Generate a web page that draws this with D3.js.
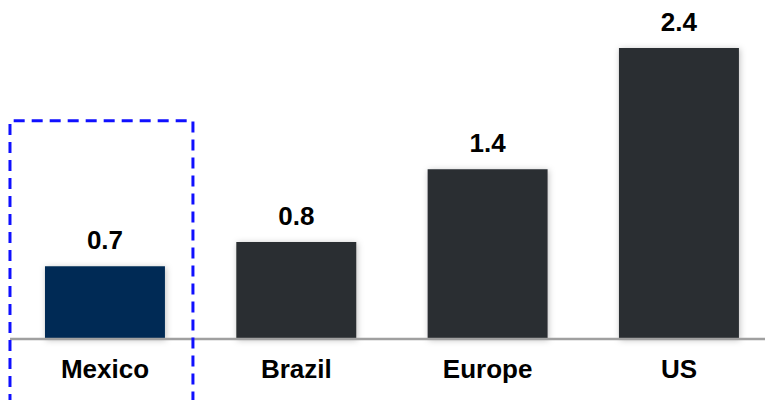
<!DOCTYPE html>
<html>
<head>
<meta charset="utf-8">
<script src="https://cdn.jsdelivr.net/npm/d3@7"></script>
<style>
  body { margin: 0; background: #fff; }
  text { font-family: "Liberation Sans", Arial, sans-serif; font-weight: bold; fill: #000; }
</style>
</head>
<body>
<script>
// data
var categories = ['Mexico', 'Brazil', 'Europe', 'US'];
var values = [0.6, 0.8, 1.4, 2.4];          // bar heights
var valueLabels = ['0.7', '0.8', '1.4', '2.4'];
var colors = ['#002b55', '#2a2d31', '#2a2d31', '#2a2d31'];

var width = 765, height = 400;
var baseY = 339;

var svg = d3.select('body').append('svg')
	.attr('width', width)
	.attr('height', height);

var defs = svg.append('defs');
defs.append('filter')
	.attr('id', 'shadow')
	.attr('x', '-20%').attr('y', '-20%')
	.attr('width', '140%').attr('height', '140%')
	.append('feDropShadow')
	.attr('dx', 1).attr('dy', 1)
	.attr('stdDeviation', 3)
	.attr('flood-color', '#000')
	.attr('flood-opacity', 0.25);

var x = d3.scaleBand()
	.domain(categories)
	.range([9.3, 774.6])
	.paddingInner(0.373)
	.paddingOuter(0.1865);

var y = d3.scaleLinear()
	.domain([0, 2.4])
	.range([baseY, 48]);

var data = categories.map(function(c, i) {
	return { cat: c, v: values[i], label: valueLabels[i], color: colors[i] };
});

// bars
svg.selectAll('rect.bar')
	.data(data)
	.enter().append('rect')
	.attr('class', 'bar')
	.attr('x', function(d) { return x(d.cat); })
	.attr('y', function(d) { return y(d.v); })
	.attr('width', x.bandwidth())
	.attr('height', function(d) { return baseY - y(d.v); })
	.attr('fill', function(d) { return d.color; })
	.attr('filter', 'url(#shadow)');

// baseline
svg.append('line')
	.attr('x1', 10)
	.attr('x2', width)
	.attr('y1', baseY)
	.attr('y2', baseY)
	.attr('stroke', '#a0a0a0')
	.attr('stroke-width', 2.5);

// value labels
svg.selectAll('text.val')
	.data(data)
	.enter().append('text')
	.attr('class', 'val')
	.attr('x', function(d) { return x(d.cat) + x.bandwidth() / 2; })
	.attr('y', function(d) { return y(d.v) - 17; })
	.attr('text-anchor', 'middle')
	.style('font-size', '26px')
	.text(function(d) { return d.label; });

// category labels
svg.selectAll('text.cat')
	.data(data)
	.enter().append('text')
	.attr('class', 'cat')
	.attr('x', function(d) { return x(d.cat) + x.bandwidth() / 2; })
	.attr('y', 378)
	.attr('text-anchor', 'middle')
	.style('font-size', '26px')
	.text(function(d) { return d.cat; });

// highlight box round Mexico
var mx = x('Mexico');
svg.append('path')
	.attr('d', 'M' + (mx - 35) + ',' + (height + 5) +
		'V120.7H' + (mx + x.bandwidth() + 28) + 'V' + (height + 5))
	.attr('fill', 'none')
	.attr('stroke', '#1010ff')
	.attr('stroke-width', 3)
	.attr('stroke-dasharray', '11,7');
</script>
</body>
</html>
